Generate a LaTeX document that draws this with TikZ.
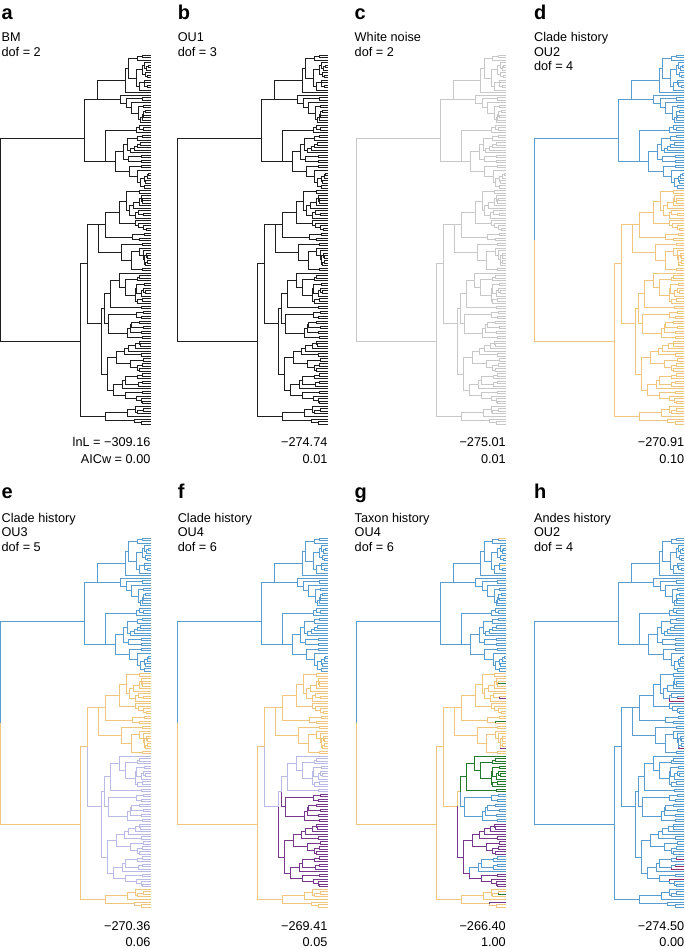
\documentclass[tikz,border=0pt]{standalone}
\usepackage{fontspec}
\setmainfont{Liberation Sans}
\definecolor{cblue}{RGB}{88,156,208}
\definecolor{corange}{RGB}{240,198,126}
\definecolor{clav}{RGB}{186,186,230}
\definecolor{cpurp}{RGB}{120,56,142}
\definecolor{cgreen}{RGB}{34,122,44}
\definecolor{cmag}{RGB}{152,42,104}
\definecolor{cgray}{RGB}{200,200,200}
\definecolor{cblack}{RGB}{30,30,30}

\newif\iffcfound
\newcommand\findcol[3]{%
  \xdef\fcres{#3}\global\fcfoundfalse
  \foreach \ia/\ib/\ic in \intervals {%
    \iffcfound\else
      \ifnum #1<\ia\relax\else
        \ifnum #2>\ib\relax\else
          \xdef\fcres{\ic}\global\fcfoundtrue
        \fi
      \fi
    \fi}%
}
\newcommand\setsplit[5]{\expandafter\def\csname sp@#1@#2\endcsname{{#3}{#4}{#5}}}
\newcommand\setnodey[3]{\expandafter\def\csname ny@#1@#2\endcsname{#3}}
\def\getsplit#1#2#3{\def\stK{#1}\def\stXa{#2}\def\stXb{#3}}
\def\Xend{150}
\def\Dy{2.5102}
\def\Hs{13}
\newcommand\drawsub[4]{%
  \begingroup
  \edef\stX{#1}\edef\stLo{#2}\edef\stHi{#3}\edef\stCol{#4}%
  \ifnum\stLo=\stHi\relax
    \pgfmathsetmacro\stY{\Ytop+\stLo*\Dy}%
    \xdef\rety{\stY}%
  \else
    \ifcsname sp@\stLo @\stHi\endcsname
      \expandafter\expandafter\expandafter\getsplit\csname sp@\stLo @\stHi\endcsname
    \else
      \pgfmathtruncatemacro\stHm{\stHi-1}%
      \ifnum\stHm=\stLo\relax
        \edef\stK{\stLo}%
      \else
        \pgfmathrandominteger{\stK}{\stLo}{\stHm}%
      \fi
      \pgfmathsetmacro\stHp{\Xend-\stX}%
      \pgfmathtruncatemacro\stMa{\stK-\stLo+1}%
      \pgfmathtruncatemacro\stMb{\stHi-\stK}%
      \pgfmathsetmacro\stXa{\Xend-min(\stHp*(0.55+0.4*rnd),\Hs*ln(\stMa)*(0.7+0.6*rnd))}%
      \pgfmathsetmacro\stXb{\Xend-min(\stHp*(0.55+0.4*rnd),\Hs*ln(\stMb)*(0.7+0.6*rnd))}%
    \fi
    \pgfmathtruncatemacro\stKb{\stK+1}%
    \findcol{\stLo}{\stK}{\stCol}\let\stCa\fcres
    \findcol{\stKb}{\stHi}{\stCol}\let\stCb\fcres
    \drawsub{\stXa}{\stLo}{\stK}{\stCa}\let\stYa\rety
    \drawsub{\stXb}{\stKb}{\stHi}{\stCb}\let\stYb\rety
    \pgfmathsetmacro\stYn{(\stYa+\stYb)/2}%
    \ifcsname ny@\stLo @\stHi\endcsname
      \edef\stF{\csname ny@\stLo @\stHi\endcsname}%
      \pgfmathsetmacro\stYn{max(min(\Ytop+\stF,max(\stYa,\stYb)),min(\stYa,\stYb))}%
    \fi
    \draw[tree,color=\stCa] (\stXa,\stYa) -- (\stX,\stYa) -- (\stX,\stYn);
    \draw[tree,color=\stCb] (\stXb,\stYb) -- (\stX,\stYb) -- (\stX,\stYn);
    \xdef\rety{\stYn}%
  \fi
  \endgroup}
\newcommand\paneltree[2]{%
  \def\intervals{#1}\pgfmathsetseed{4321}\drawsub{0}{0}{147}{#2}}

\setsplit{0}{147}{53}{84}{80}
\setsplit{0}{53}{27}{97}{105}
\setsplit{54}{147}{139}{87}{105}
\setsplit{54}{139}{86}{98}{101}
\setsplit{87}{139}{113}{104}{107}
\setsplit{87}{113}{101}{110}{108}
\setsplit{114}{139}{126}{116}{113}
\setsplit{127}{139}{133}{122}{125}
% node heights (offset from the top leaf)
\setnodey{0}{53}{83}
\setnodey{0}{27}{52}
\setnodey{28}{53}{114}
\setnodey{54}{147}{286}
\setnodey{54}{139}{208}
\setnodey{54}{86}{142}
\setnodey{87}{139}{268}

\tikzset{
  tree/.style={line width=0.95pt, line join=miter, line cap=butt},
  lbl/.style={font=\fontsize{12.7}{14}\selectfont, inner sep=0pt, anchor=base west},
  letr/.style={font=\fontsize{20}{20}\selectfont\bfseries, inner sep=0pt, anchor=base west},
  num/.style={font=\fontsize{12.7}{14}\selectfont, inner sep=0pt, anchor=base east}
}

\begin{document}
\begin{tikzpicture}[x=1pt,y=-1pt]
\fill[white] (0,0) rectangle (685,948);
\useasboundingbox (0,0) rectangle (685,948);

% ---------- Row 1 ----------
\def\Ytop{55}
\begin{scope}[xshift=0.6pt]
  \paneltree{999/999/cblack}{cblack}
  \node[letr] (la) at (0.8,19) {a};
  \node[lbl] (la1) at (0.8,41.5) {BM};
  \node[lbl] (la2) at (0.8,56) {dof = 2};
  \node[num] (la3) at (150,446.7) {lnL = −309.16};
  \node[num] (la4) at (150,463.3) {AICw = 0.00};
\end{scope}
\begin{scope}[xshift=177.6pt]
  \paneltree{999/999/cblack}{cblack}
  \node[letr] (lb) at (0,19) {b};
  \node[lbl] (lb1) at (0,41.5) {OU1};
  \node[lbl] (lb2) at (0,56) {dof = 3};
  \node[num] (lb3) at (150,446.7) {−274.74};
  \node[num] (lb4) at (150,463.3) {0.01};
\end{scope}
\begin{scope}[xshift=356pt]
  \paneltree{999/999/cgray}{cgray}
  \node[letr] (lc) at (-1.5,19) {c};
  \node[lbl] (lc1) at (-1.5,41.5) {White noise};
  \node[lbl] (lc2) at (-1.5,56) {dof = 2};
  \node[num] (lc3) at (150,446.7) {−275.01};
  \node[num] (lc4) at (150,463.3) {0.01};
\end{scope}
\begin{scope}[xshift=534.4pt]
  \paneltree{0/53/cblue}{corange}
  \node[letr] (ld) at (-0.5,19) {d};
  \node[lbl] (ld1) at (-0.5,41.5) {Clade history};
  \node[lbl] (ld2) at (-0.5,56) {OU2};
  \node[lbl] (ld3) at (-0.5,70.5) {dof = 4};
  \node[num] (ld4) at (150,446.7) {−270.91};
  \node[num] (ld5) at (150,463.3) {0.10};
\end{scope}

% ---------- Row 2 ----------
\def\Ytop{538}
\begin{scope}[xshift=0.6pt]
  \paneltree{0/53/cblue,87/139/clav}{corange}
  \node[letr] (le) at (0.8,498) {e};
  \node[lbl] (le1) at (0.8,522) {Clade history};
  \node[lbl] (le2) at (0.8,536.5) {OU3};
  \node[lbl] (le3) at (0.8,551) {dof = 5};
  \node[num] (le4) at (150,930) {−270.36};
  \node[num] (le5) at (150,946.5) {0.06};
\end{scope}
\begin{scope}[xshift=177.6pt]
  \paneltree{0/53/cblue,102/139/cpurp,87/139/clav}{corange}
  \node[letr] (lf) at (0,498) {f};
  \node[lbl] (lf1) at (0,522) {Clade history};
  \node[lbl] (lf2) at (0,536.5) {OU4};
  \node[lbl] (lf3) at (0,551) {dof = 6};
  \node[num] (lf4) at (150,930) {−269.41};
  \node[num] (lf5) at (150,946.5) {0.05};
\end{scope}
\begin{scope}[xshift=356pt]
  \paneltree{0/0/corange,11/11/corange,0/53/cblue,142/142/cgreen,145/145/cpurp,102/113/cblue,127/133/cblue,87/101/cgreen,114/139/cpurp,64/64/cpurp,84/84/cpurp,58/58/cgreen,73/73/cgreen}{corange}
  \node[letr] (lg) at (-1.5,498) {g};
  \node[lbl] (lg1) at (-1.5,522) {Taxon history};
  \node[lbl] (lg2) at (-1.5,536.5) {OU4};
  \node[lbl] (lg3) at (-1.5,551) {dof = 6};
  \node[num] (lg4) at (150,930) {−266.40};
  \node[num] (lg5) at (150,946.5) {1.00};
\end{scope}
\begin{scope}[xshift=534.4pt]
  \paneltree{64/65/cmag,84/84/cmag,128/128/cmag,131/132/cmag,136/136/cmag}{cblue}
  \node[letr] (lh) at (-0.5,498) {h};
  \node[lbl] (lh1) at (-0.5,522) {Andes history};
  \node[lbl] (lh2) at (-0.5,536.5) {OU2};
  \node[lbl] (lh3) at (-0.5,551) {dof = 4};
  \node[num] (lh4) at (150,930) {−274.50};
  \node[num] (lh5) at (150,946.5) {0.00};
\end{scope}
\end{tikzpicture}
\end{document}
